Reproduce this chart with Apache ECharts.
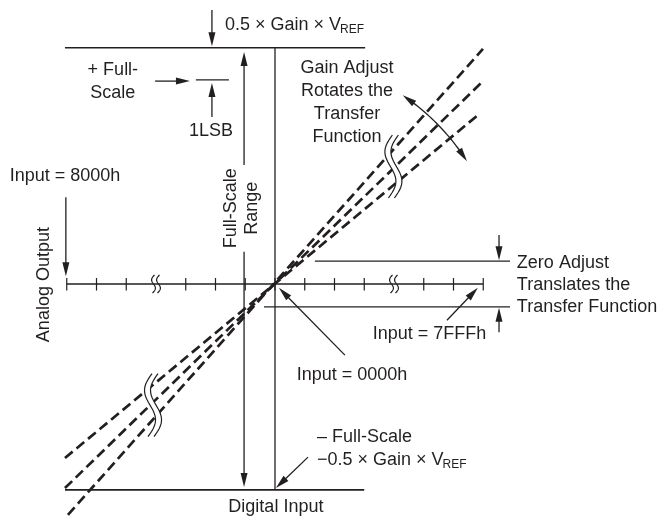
<!DOCTYPE html>
<html><head><meta charset="utf-8">
<script src="https://cdn.jsdelivr.net/npm/echarts@6/dist/echarts.min.js"></script>
<style>html,body{margin:0;padding:0;background:#fff}#c{width:660px;height:516px}</style>
</head><body><div id="c"></div>
<script>
// ---- data (schematic units: x = digital input code steps, y = analog output steps) ----
const codeTicks = [-7, -6, -5, -3, -2, -1, 0, 1, 2, 3, 5, 6, 7];
const codeBreaks = [-4, 4];
const gainHigh = [[-6.96, -7.76], [6.99, 7.90]];
const gainNominal = [[-7.06, -6.86], [6.96, 6.79]];
const gainLow = [[-7.06, -5.85], [6.86, 5.71]];
const transferBreaks = [[-4.1, -4.07], [3.98, 3.95]];
const fullScalePos = 7.94;
const fullScaleNeg = -6.92;
const lsbLevel = 6.86;
const zeroBand = 0.77;

// ---- layout ----
const W = 660, H = 516, OX = 275, OY = 284, UNIT = 29.75;
const INK = '#231f20';
const FONT = '"Liberation Sans", Arial, Helvetica, sans-serif';
const FS = 18;

const mctx = document.createElement('canvas').getContext('2d');
function measure(t, size) { mctx.font = size + 'px ' + FONT; return mctx.measureText(t).width; }

const chart = echarts.init(document.getElementById('c'), null, { renderer: 'canvas' });

function dashed(name, data) {
  return {
    type: 'line', name, data, symbol: 'none', showSymbol: false, clip: false, silent: true,
    animation: false, z: 2,
    lineStyle: { color: INK, width: 2.7, type: [10, 5], cap: 'butt' }
  };
}

function renderAnnotations(params, api) {
  const P = (x, y) => api.coord([x, y]);
  const ch = [];
  function seg(a, b, w) {
    const p = P(a[0], a[1]), q = P(b[0], b[1]);
    ch.push({ type: 'line', shape: { x1: p[0], y1: p[1], x2: q[0], y2: q[1] }, style: { stroke: INK, lineWidth: w || 1.3 } });
  }
  function head(q, ux, uy) {
    const L = 14, hw = 3.5;
    const bx = q[0] - ux * L, by = q[1] - uy * L;
    ch.push({ type: 'polygon', shape: { points: [[q[0], q[1]], [bx - uy * hw, by + ux * hw], [bx + uy * hw, by - ux * hw]] }, style: { fill: INK } });
    return [bx + ux * 2, by + uy * 2];
  }
  function arrow(tail, tip) {
    const p = P(tail[0], tail[1]), q = P(tip[0], tip[1]);
    const dx = q[0] - p[0], dy = q[1] - p[1], len = Math.hypot(dx, dy);
    const b = head(q, dx / len, dy / len);
    ch.push({ type: 'line', shape: { x1: p[0], y1: p[1], x2: b[0], y2: b[1] }, style: { stroke: INK, lineWidth: 1.3 } });
  }
  function text(str, pos, align, opt) {
    opt = opt || {};
    const p = P(pos[0], pos[1]);
    ch.push({
      type: 'text', x: p[0], y: p[1], rotation: opt.rot || 0,
      style: { text: str, fill: INK, fontSize: opt.size || FS, fontFamily: FONT, align: align, verticalAlign: 'middle', lineHeight: opt.lh || 23 }
    });
    return p;
  }
  function vref(str, pos) {
    const p = text(str, pos, 'left');
    const w = measure(str, FS);
    ch.push({ type: 'text', x: p[0] + w - 1, y: p[1] + 5, style: { text: 'REF', fill: INK, fontSize: 12, fontFamily: FONT, align: 'left', verticalAlign: 'middle' } });
  }
  function sCurve(c, h, a, tilt, dx) {
    const pts = [];
    for (let i = 0; i <= 24; i++) {
      const t = i / 24;
      pts.push([c[0] + dx + tilt * (0.5 - t) - a * Math.sin(2 * Math.PI * t), c[1] - h / 2 + t * h]);
    }
    return pts;
  }
  function breakMark(pos, h, a, tilt, gap, mask) {
    const c = P(pos[0], pos[1]);
    const l = sCurve(c, h, a, tilt, -gap / 2), r = sCurve(c, h, a, tilt, gap / 2);
    if (mask) ch.push({ type: 'polygon', shape: { points: l.concat(r.slice().reverse()) }, style: { fill: '#fff' } });
    ch.push({ type: 'polyline', shape: { points: l }, style: { stroke: INK, lineWidth: 1.2, fill: null } });
    ch.push({ type: 'polyline', shape: { points: r }, style: { stroke: INK, lineWidth: 1.2, fill: null } });
  }

  // frame lines
  seg([-7.06, fullScalePos], [3.03, fullScalePos], 1.6);
  seg([-7.06, fullScaleNeg], [3.0, fullScaleNeg], 1.6);
  seg([0, fullScalePos], [0, fullScaleNeg], 1.3);
  // code axis
  seg([codeTicks[0], 0], [codeTicks[codeTicks.length - 1], 0], 1.3);
  codeTicks.forEach(c => seg([c, -0.22], [c, 0.2], 1.2));
  codeBreaks.forEach(c => breakMark([c, 0], 18, 2.4, 2, 5, false));
  // transfer function breaks
  transferBreaks.forEach(b => breakMark(b, 63, 6.5, 4, 6, true));

  // top annotation
  arrow([-2.12, 9.21], [-2.12, 7.99]);
  vref('0.5 × Gain × V', [-1.68, 8.71]);
  // + full scale / 1 LSB
  text('+ Full-\nScale', [-5.45, 6.81], 'center');
  arrow([-4.03, 6.82], [-2.86, 6.82]);
  seg([-2.66, lsbLevel], [-1.55, lsbLevel], 1.3);
  arrow([-2.12, 5.61], [-2.12, 6.76]);
  text('1LSB', [-2.15, 5.14], 'center');
  // full scale range
  arrow([-1.04, 4.0], [-1.04, 7.80]);
  arrow([-1.04, 1.08], [-1.04, -6.82]);
  text('Full-Scale\nRange', [-1.11, 2.55], 'center', { rot: Math.PI / 2, lh: 21 });
  // left side
  text('Input = 8000h', [-7.06, 3.63], 'center');
  arrow([-7.03, 2.92], [-7.03, 0.26]);
  text('Analog Output', [-7.75, -0.02], 'center', { rot: Math.PI / 2 });
  // gain adjust
  text('Gain Adjust\nRotates the\nTransfer\nFunction', [2.42, 6.10], 'center');
  {
    const R = 7.66, a0 = 55.9 * Math.PI / 180, a1 = 32.6 * Math.PI / 180;
    const pts = [];
    for (let i = 0; i <= 30; i++) {
      const a = a0 + (a1 - a0) * i / 30;
      pts.push(P(R * Math.cos(a), R * Math.sin(a)));
    }
    const dA = (13 / (R * UNIT));
    const s0 = P(R * Math.cos(a0), R * Math.sin(a0)), s0i = P(R * Math.cos(a0 - dA), R * Math.sin(a0 - dA));
    const s1 = P(R * Math.cos(a1), R * Math.sin(a1)), s1i = P(R * Math.cos(a1 + dA), R * Math.sin(a1 + dA));
    const inner = pts.filter((p, i) => { const a = a0 + (a1 - a0) * i / 30; return a <= a0 - dA * 0.8 && a >= a1 + dA * 0.8; });
    ch.push({ type: 'polyline', shape: { points: inner }, style: { stroke: INK, lineWidth: 1.3, fill: null } });
    let dx = s0[0] - s0i[0], dy = s0[1] - s0i[1], l = Math.hypot(dx, dy);
    head(s0, dx / l, dy / l);
    dx = s1[0] - s1i[0]; dy = s1[1] - s1i[1]; l = Math.hypot(dx, dy);
    head(s1, dx / l, dy / l);
  }
  // zero adjust
  seg([1.34, zeroBand], [7.90, zeroBand], 1.3);
  seg([-0.37, -zeroBand], [7.90, -zeroBand], 1.3);
  arrow([7.53, 1.65], [7.53, zeroBand + 0.03]);
  arrow([7.53, -1.62], [7.53, -zeroBand - 0.03]);
  text('Zero Adjust\nTranslates the\nTransfer Function', [8.13, -0.03], 'left', { lh: 22 });
  // input labels
  text('Input = 7FFFh', [5.19, -1.68], 'center');
  arrow([5.78, -1.22], [6.82, -0.13]);
  text('Input = 0000h', [2.59, -3.06], 'center');
  arrow([2.35, -2.39], [0.13, -0.13]);
  // negative full scale
  text('– Full-Scale', [1.41, -5.14], 'left');
  vref('−0.5 × Gain × V', [1.41, -5.92]);
  arrow([1.11, -5.82], [0.03, -6.86]);
  text('Digital Input', [0.03, -7.50], 'center');

  return { type: 'group', children: ch };
}

chart.setOption({
  animation: false,
  backgroundColor: '#fff',
  grid: { left: 0, right: 0, top: 0, bottom: 0 },
  xAxis: { type: 'value', min: -OX / UNIT, max: (W - OX) / UNIT, show: false },
  yAxis: { type: 'value', min: -(H - OY) / UNIT, max: OY / UNIT, show: false },
  series: [
    dashed('High gain', gainHigh),
    dashed('Nominal gain', gainNominal),
    dashed('Low gain', gainLow),
    { type: 'custom', name: 'annotations', data: [[0, 0]], renderItem: renderAnnotations, clip: false, silent: true, z: 3 }
  ]
});
</script></body></html>
